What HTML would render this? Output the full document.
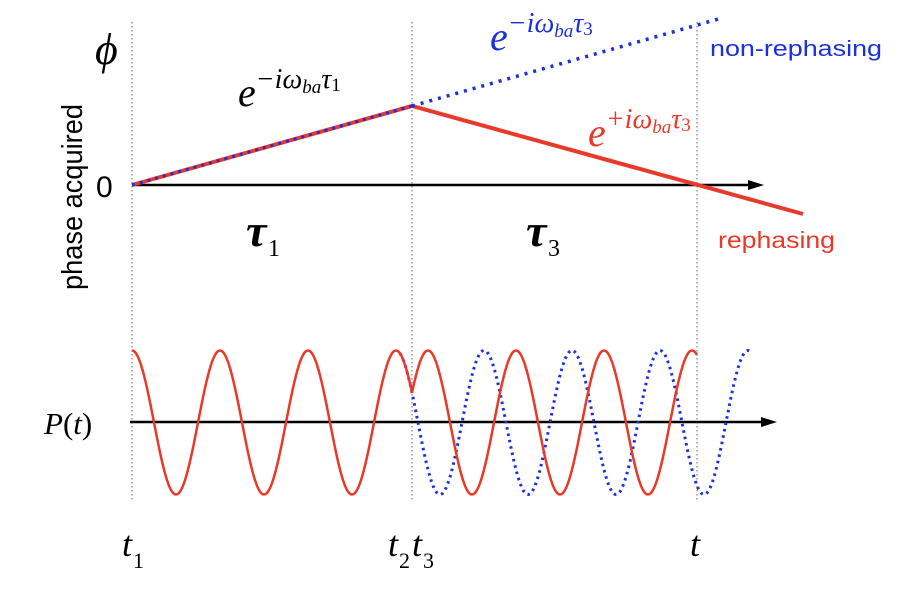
<!DOCTYPE html>
<html><head><meta charset="utf-8"><style>
html,body{margin:0;padding:0;background:#fff;}
svg{display:block}
.m{font-family:"Liberation Serif",serif;font-style:italic}
.s{font-family:"Liberation Sans",sans-serif}
</style></head><body>
<svg id="g" width="898" height="590" viewBox="0 0 898 590" xmlns="http://www.w3.org/2000/svg">
<g stroke="#666" stroke-width="1" stroke-dasharray="1.5,2.5">
<line x1="132" y1="22" x2="132" y2="500"/>
<line x1="412" y1="22" x2="412" y2="500"/>
<line x1="697" y1="22" x2="697" y2="500"/>
</g>
<line x1="132" y1="185" x2="752" y2="185" stroke="#000" stroke-width="2.5"/>
<polygon points="764,185 748,180 748,190" fill="#000"/>
<line x1="130" y1="422" x2="765" y2="422" stroke="#000" stroke-width="2.5"/>
<polygon points="777,422 761,417 761,427" fill="#000"/>
<polyline points="132,185 412,106 803,214" fill="none" stroke="#e8392a" stroke-width="4"/>
<line x1="132" y1="185" x2="412" y2="106" stroke="#1a2fe0" stroke-width="3" stroke-dasharray="3,5"/>
<line x1="412" y1="106" x2="722" y2="18" stroke="#1a2fe0" stroke-width="3.5" stroke-dasharray="3,6"/>
<path id="blue" fill="none" stroke="#1a2fe0" stroke-width="3" stroke-dasharray="2.5,4"/>
<path id="red" fill="none" stroke="#e8392a" stroke-width="2.5"/>
<text x="95" y="64" class="m" font-size="44">ϕ</text>
<text x="96" y="197" class="s" font-size="30">0</text>
<text class="s" font-size="29" transform="translate(82,290) rotate(-90)" textLength="186" lengthAdjust="spacingAndGlyphs">phase acquired</text>
<text x="238" y="106" class="m" font-size="40">e<tspan font-size="28" dy="-18">−iω</tspan><tspan font-size="19" dy="5">ba</tspan><tspan font-size="28" dy="-5">τ</tspan><tspan font-size="19" dy="3" font-style="normal">1</tspan></text>
<text x="490" y="50" class="m" font-size="40" fill="#1a2fe0">e<tspan font-size="28" dy="-18">−iω</tspan><tspan font-size="19" dy="5">ba</tspan><tspan font-size="28" dy="-5">τ</tspan><tspan font-size="19" dy="3" font-style="normal">3</tspan></text>
<text x="588" y="146" class="m" font-size="40" fill="#e8392a">e<tspan font-size="28" dy="-18">+iω</tspan><tspan font-size="19" dy="5">ba</tspan><tspan font-size="28" dy="-5">τ</tspan><tspan font-size="19" dy="3" font-style="normal">3</tspan></text>
<text x="710" y="56" class="s" font-size="22" fill="#1a2fe0" textLength="172" lengthAdjust="spacingAndGlyphs">non-rephasing</text>
<text x="718" y="248" class="s" font-size="23" fill="#e8392a" textLength="117" lengthAdjust="spacingAndGlyphs">rephasing</text>
<text x="246" y="246" class="m" font-size="46" font-weight="bold">τ</text><text x="268" y="256" font-family="Liberation Serif" font-size="24">1</text>
<text x="526" y="246" class="m" font-size="46" font-weight="bold">τ</text><text x="548" y="256" font-family="Liberation Serif" font-size="24">3</text>
<text x="44" y="434" class="m" font-size="31">P<tspan font-style="normal">(</tspan>t<tspan font-style="normal">)</tspan></text>
<text x="122" y="556" class="m" font-size="36">t</text><text x="133" y="568" font-family="Liberation Serif" font-size="22">1</text>
<text x="388" y="556" class="m" font-size="36">t</text><text x="399" y="568" font-family="Liberation Serif" font-size="22">2</text>
<text x="412" y="556" class="m" font-size="36">t</text><text x="423" y="568" font-family="Liberation Serif" font-size="22">3</text>
<text x="690" y="556" class="m" font-size="36">t</text>
</svg>
<script>
var T=88,c=422.5,A=72,P=Math.PI*2;
function y1(x){return c-A*Math.cos(P*(x-132)/T);}
function y2(x){return c-A*Math.cos(P*(692-x)/T);}
var r="",b="";
for(var x=132;x<=412;x+=1)r+=(x==132?"M":"L")+x+","+y1(x).toFixed(1);
for(var x=412;x<=697;x+=1)r+="L"+x+","+y2(x).toFixed(1);
for(var x=400;x<=750;x+=1)b+=(x==400?"M":"L")+x+","+y1(x).toFixed(1);
document.getElementById("red").setAttribute("d",r);
document.getElementById("blue").setAttribute("d",b);
</script>
</body></html>
